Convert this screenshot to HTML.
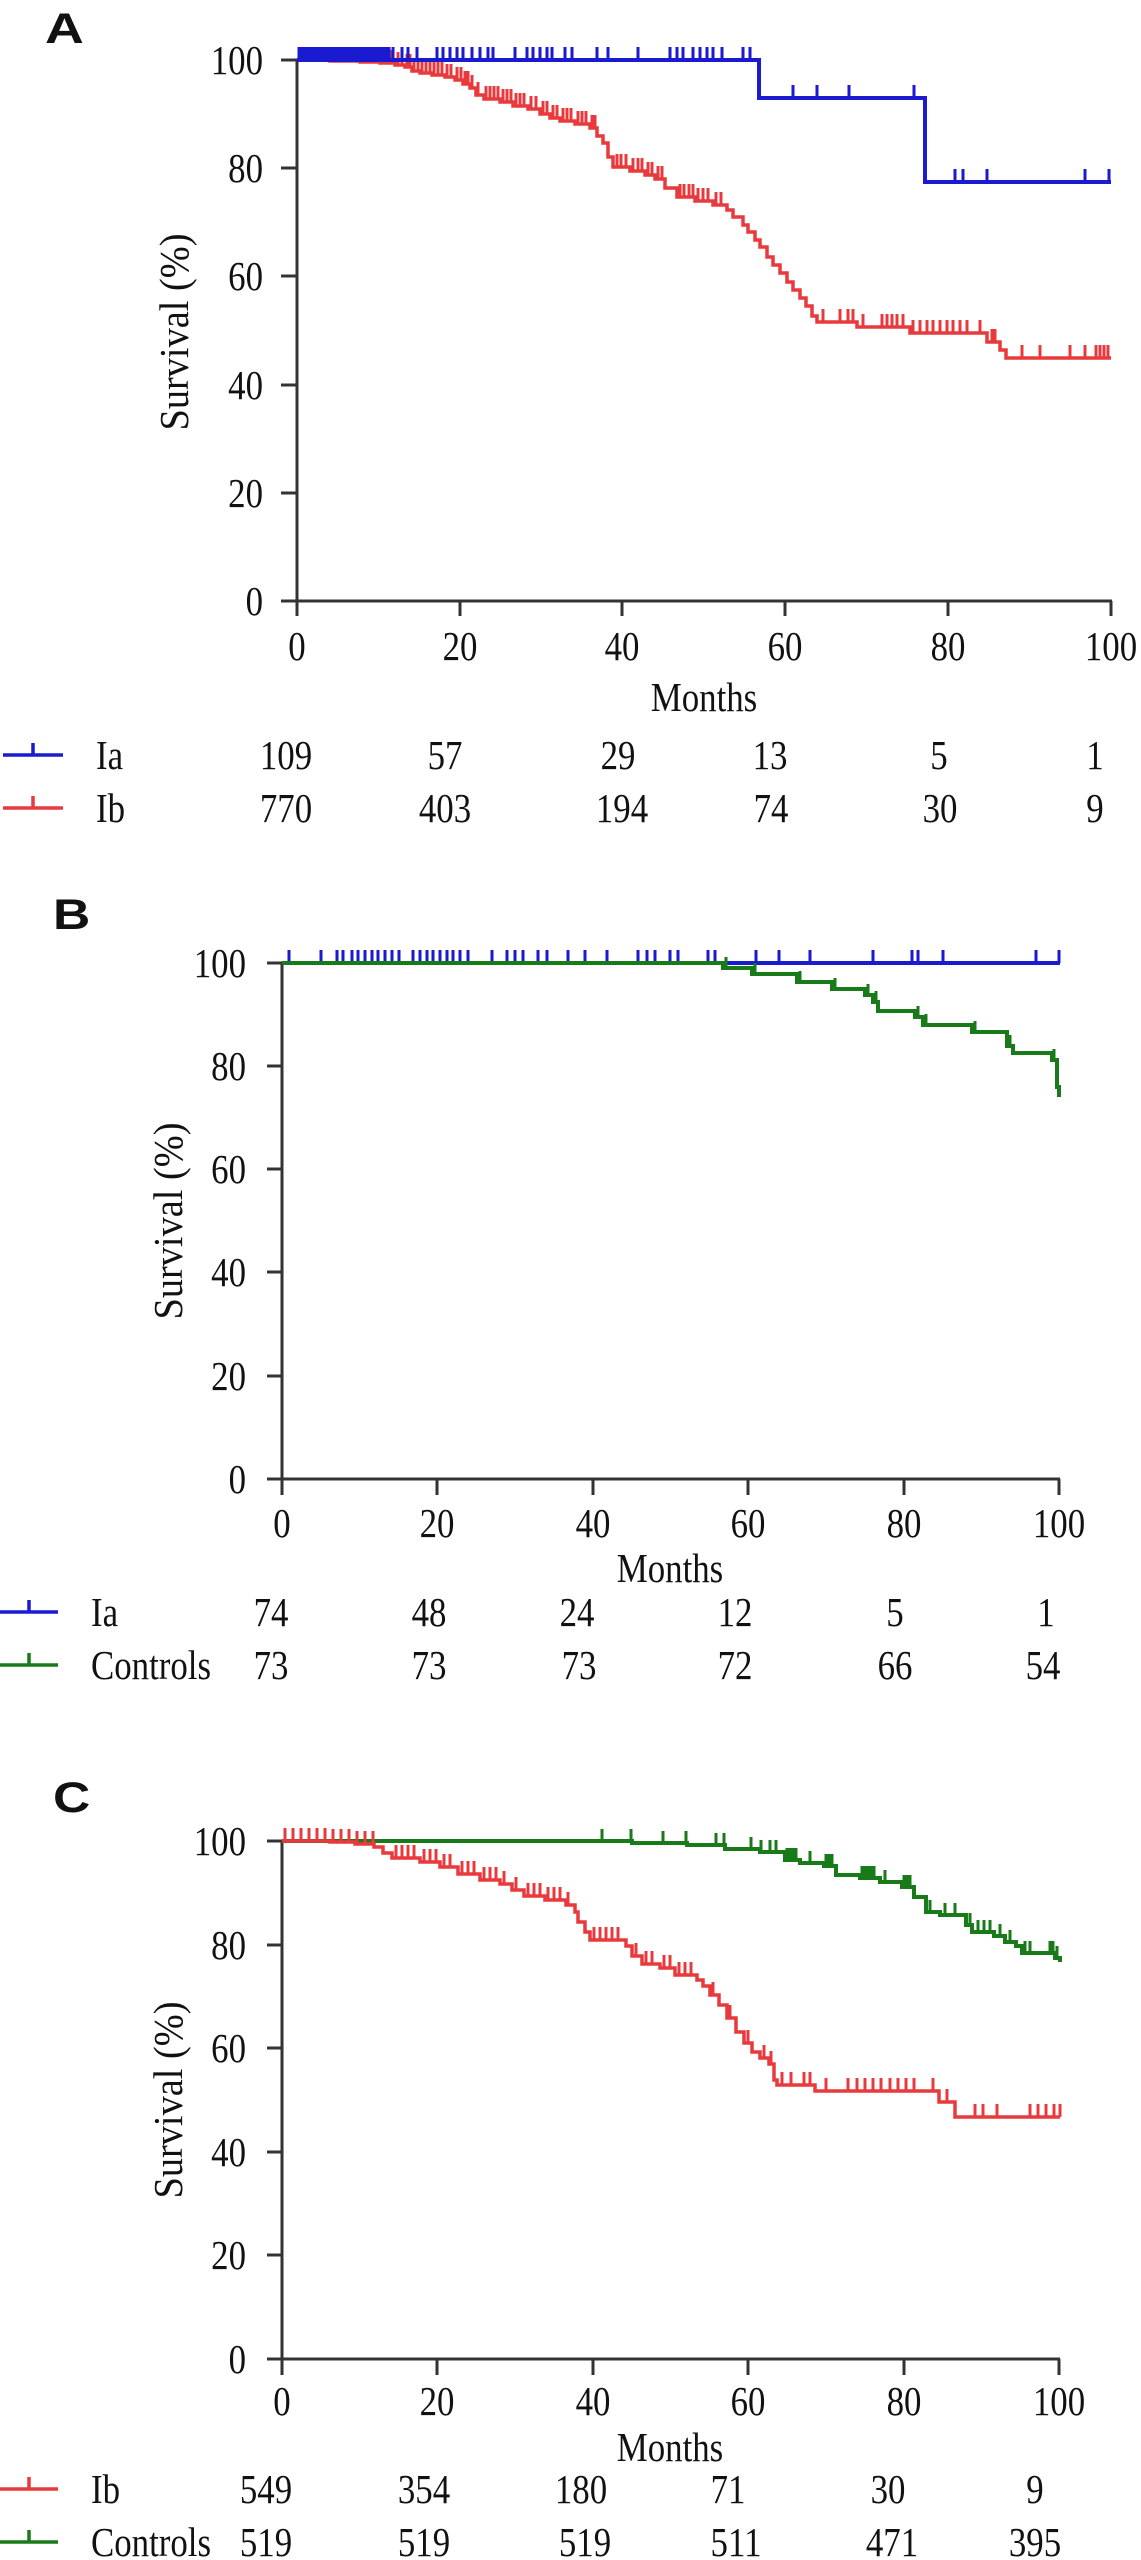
<!DOCTYPE html>
<html><head><meta charset="utf-8"><style>
html,body{margin:0;padding:0;background:#fff;}
svg{display:block;}
.t{font-family:"Liberation Serif",serif;font-size:41px;fill:#111;}
.lab{font-family:"Liberation Sans",sans-serif;font-weight:bold;font-size:43px;fill:#111;}
.ax{stroke:#333;stroke-width:3;fill:none;}
</style></head><body>
<svg width="1141" height="2560" viewBox="0 0 1141 2560" xmlns="http://www.w3.org/2000/svg">
<rect width="1141" height="2560" fill="#fff"/>

<!-- ================= PANEL A ================= -->
<text class="lab" transform="translate(45,43) scale(1.25,1)">A</text>
<path class="ax" d="M297 60V616 M281 601H1112 M281 60H297 M281 168H297 M281 276H297 M281 385H297 M281 493H297 M460 601V616 M622 601V616 M785 601V616 M948 601V616 M1111 601V616"/>
<g class="t" text-anchor="end">
<text transform="translate(263,74) scale(.85,1)">100</text>
<text transform="translate(263,182) scale(.85,1)">80</text>
<text transform="translate(263,290) scale(.85,1)">60</text>
<text transform="translate(263,399) scale(.85,1)">40</text>
<text transform="translate(263,507) scale(.85,1)">20</text>
<text transform="translate(263,615) scale(.85,1)">0</text>
</g>
<g class="t" text-anchor="middle">
<text transform="translate(297,660) scale(.85,1)">0</text>
<text transform="translate(460,660) scale(.85,1)">20</text>
<text transform="translate(622,660) scale(.85,1)">40</text>
<text transform="translate(785,660) scale(.85,1)">60</text>
<text transform="translate(948,660) scale(.85,1)">80</text>
<text transform="translate(1111,660) scale(.85,1)">100</text>
<text transform="translate(704,711) scale(.85,1)">Months</text>
</g>
<text class="t" text-anchor="middle" font-size="40" transform="translate(188,332) rotate(-90)" textLength="197" lengthAdjust="spacingAndGlyphs">Survival (%)</text>

<!-- red Ib A -->
<path fill="none" stroke="#e8393c" stroke-width="3.5" d="M297 60H330V61H360V62H380V63H395V65H405V67H412V71H420V73H432V75H445V77H455V80H463V84H470V88H476V95H484V99H500V102H513V106H528V109H540V114H550V118H560V121H575V124H590V128H597V136H603V143H608V157H613V167H630V171H645V175H655V179H665V188H677V197H695V201H713V205H727V210H733V217H743V225H748V232H755V240H760V247H767V257H773V265H780V273H787V282H793V290H800V298H806V306H812V316H817V322H857V327H910V333H987V342H1000V350H1006V358H1111"/>
<path fill="none" stroke="#e8393c" stroke-width="3" d="M300 60v-13M304 60v-13M308 60v-13M312 60v-13M316 60v-13M320 60v-13M324 60v-13M328 60v-13M332 61v-13M336 61v-13M340 61v-13M344 61v-13M348 61v-13M352 61v-13M356 61v-13M362 62v-13M366 62v-13M370 62v-13M374 62v-13M378 62v-13M382 63v-13M386 63v-13M390 63v-13M398 65v-13M402 65v-13M407 67v-13M410 67v-13M414 71v-13M418 71v-13M422 73v-13M426 73v-13M430 73v-13M434 75v-13M438 75v-13M442 75v-13M447 77v-13M451 77v-13M457 80v-13M461 80v-13M465 84v-13M468 84v-13M472 88v-13M478 95v-13M486 99v-13M490 99v-13M494 99v-13M498 99v-13M503 102v-13M507 102v-13M511 102v-13M516 106v-13M520 106v-13M524 106v-13M531 109v-13M536 109v-13M543 114v-13M547 114v-13M553 118v-13M557 118v-13M563 121v-13M567 121v-13M571 121v-13M578 124v-13M582 124v-13M586 124v-13M592 128v-13M595 128v-13M617 167v-13M621 167v-13M626 167v-13M633 171v-13M638 171v-13M642 171v-13M648 175v-13M652 175v-13M658 179v-13M662 179v-13M680 197v-13M684 197v-13M689 197v-13M693 197v-13M698 201v-13M703 201v-13M708 201v-13M716 205v-13M721 205v-13M823 322v-13M840 322v-13M848 322v-13M853 322v-13M863 327v-13M882 327v-13M887 327v-13M892 327v-13M897 327v-13M903 327v-13M913 333v-13M920 333v-13M927 333v-13M933 333v-13M940 333v-13M947 333v-13M953 333v-13M960 333v-13M967 333v-13M980 333v-13M992 342v-13M995 342v-13M1022 358v-13M1040 358v-13M1070 358v-13M1085 358v-13M1096 358v-13M1100 358v-13M1104 358v-13M1108 358v-13"/>
<!-- blue Ia A -->
<path fill="none" stroke="#1a1ad0" stroke-width="4" d="M297 60H759V98H925V182H1111"/>
<path fill="none" stroke="#1a1ad0" stroke-width="3" d="M299 60v-13M302 60v-13M305 60v-13M308 60v-13M311 60v-13M314 60v-13M317 60v-13M320 60v-13M323 60v-13M326 60v-13M329 60v-13M332 60v-13M335 60v-13M338 60v-13M341 60v-13M344 60v-13M347 60v-13M350 60v-13M353 60v-13M356 60v-13M359 60v-13M362 60v-13M365 60v-13M368 60v-13M371 60v-13M374 60v-13M377 60v-13M380 60v-13M383 60v-13M386 60v-13M389 60v-13M393 60v-13M402 60v-13M408 60v-13M417 60v-13M437 60v-13M443 60v-13M450 60v-13M457 60v-13M463 60v-13M472 60v-13M480 60v-13M488 60v-13M493 60v-13M515 60v-13M527 60v-13M533 60v-13M540 60v-13M547 60v-13M552 60v-13M565 60v-13M572 60v-13M597 60v-13M608 60v-13M638 60v-13M670 60v-13M677 60v-13M683 60v-13M693 60v-13M700 60v-13M707 60v-13M713 60v-13M722 60v-13M743 60v-13M750 60v-13M793 98v-13M817 98v-13M849 98v-13M914 98v-13M955 182v-13M963 182v-13M987 182v-13M1085 182v-13M1109 182v-13"/>
<!-- legend A -->
<path fill="none" stroke="#1a1ad0" stroke-width="3.5" d="M3 755H63M33 755V743"/>
<path fill="none" stroke="#e8393c" stroke-width="3.5" d="M3 808H63M33 808V796"/>
<g class="t">
<text transform="translate(96,769) scale(.85,1)">Ia</text>
<text transform="translate(96,822) scale(.85,1)">Ib</text>
</g>
<g class="t" text-anchor="middle">
<text transform="translate(286,769) scale(.85,1)">109</text>
<text transform="translate(445,769) scale(.85,1)">57</text>
<text transform="translate(618,769) scale(.85,1)">29</text>
<text transform="translate(770,769) scale(.85,1)">13</text>
<text transform="translate(939,769) scale(.85,1)">5</text>
<text transform="translate(1095,769) scale(.85,1)">1</text>
<text transform="translate(286,822) scale(.85,1)">770</text>
<text transform="translate(445,822) scale(.85,1)">403</text>
<text transform="translate(622,822) scale(.85,1)">194</text>
<text transform="translate(771,822) scale(.85,1)">74</text>
<text transform="translate(940,822) scale(.85,1)">30</text>
<text transform="translate(1095,822) scale(.85,1)">9</text>
</g>

<!-- ================= PANEL B ================= -->
<text class="lab" transform="translate(53,929) scale(1.2,1)">B</text>
<path class="ax" d="M282 963V1495 M267 1479H1060 M267 963H282 M267 1066H282 M267 1169H282 M267 1272H282 M267 1376H282 M437 1479V1495 M593 1479V1495 M748 1479V1495 M904 1479V1495 M1059 1479V1495"/>
<g class="t" text-anchor="end">
<text transform="translate(246,977) scale(.85,1)">100</text>
<text transform="translate(246,1080) scale(.85,1)">80</text>
<text transform="translate(246,1183) scale(.85,1)">60</text>
<text transform="translate(246,1286) scale(.85,1)">40</text>
<text transform="translate(246,1390) scale(.85,1)">20</text>
<text transform="translate(246,1493) scale(.85,1)">0</text>
</g>
<g class="t" text-anchor="middle">
<text transform="translate(282,1537) scale(.85,1)">0</text>
<text transform="translate(437,1537) scale(.85,1)">20</text>
<text transform="translate(593,1537) scale(.85,1)">40</text>
<text transform="translate(748,1537) scale(.85,1)">60</text>
<text transform="translate(904,1537) scale(.85,1)">80</text>
<text transform="translate(1059,1537) scale(.85,1)">100</text>
<text transform="translate(670,1582) scale(.85,1)">Months</text>
</g>
<text class="t" text-anchor="middle" font-size="40" transform="translate(182,1221) rotate(-90)" textLength="197" lengthAdjust="spacingAndGlyphs">Survival (%)</text>

<!-- blue Ia B -->
<path fill="none" stroke="#1a1ad0" stroke-width="4" d="M282 963H1060"/>
<path fill="none" stroke="#1a1ad0" stroke-width="3" d="M289 963v-13M321 963v-13M337 963v-13M343 963v-13M352 963v-13M358 963v-13M365 963v-13M372 963v-13M378 963v-13M385 963v-13M392 963v-13M399 963v-13M413 963v-13M420 963v-13M427 963v-13M433 963v-13M440 963v-13M447 963v-13M453 963v-13M460 963v-13M468 963v-13M492 963v-13M507 963v-13M515 963v-13M523 963v-13M538 963v-13M547 963v-13M568 963v-13M585 963v-13M607 963v-13M638 963v-13M647 963v-13M655 963v-13M670 963v-13M678 963v-13M708 963v-13M715 963v-13M756 963v-13M779 963v-13M810 963v-13M873 963v-13M912 963v-13M918 963v-13M943 963v-13M1036 963v-13M1059 963v-13"/>
<!-- green Controls B -->
<path fill="none" stroke="#197a19" stroke-width="4" d="M282 963H723V968H752V974H797V982H832V989H865V995H873V1002H878V1011H915V1017H923V1025H972V1032H1007V1046H1013V1053H1052V1060H1057V1087H1059V1097"/>
<path fill="none" stroke="#197a19" stroke-width="3" d="M726 968v-11M755 974v-11M800 982v-11M835 989v-11M868 995v-11M876 1002v-11M918 1017v-11M926 1025v-11M975 1032v-11M1010 1046v-11M1054 1060v-11"/>
<!-- legend B -->
<path fill="none" stroke="#1a1ad0" stroke-width="3.5" d="M0 1612H58M29 1612V1600"/>
<path fill="none" stroke="#197a19" stroke-width="3.5" d="M0 1665H58M29 1665V1653"/>
<g class="t">
<text transform="translate(91,1626) scale(.85,1)">Ia</text>
<text transform="translate(91,1679) scale(.85,1)">Controls</text>
</g>
<g class="t" text-anchor="middle">
<text transform="translate(271,1626) scale(.85,1)">74</text>
<text transform="translate(429,1626) scale(.85,1)">48</text>
<text transform="translate(577,1626) scale(.85,1)">24</text>
<text transform="translate(735,1626) scale(.85,1)">12</text>
<text transform="translate(895,1626) scale(.85,1)">5</text>
<text transform="translate(1046,1626) scale(.85,1)">1</text>
<text transform="translate(271,1679) scale(.85,1)">73</text>
<text transform="translate(429,1679) scale(.85,1)">73</text>
<text transform="translate(579,1679) scale(.85,1)">73</text>
<text transform="translate(735,1679) scale(.85,1)">72</text>
<text transform="translate(895,1679) scale(.85,1)">66</text>
<text transform="translate(1043,1679) scale(.85,1)">54</text>
</g>

<!-- ================= PANEL C ================= -->
<text class="lab" transform="translate(53,1812) scale(1.2,1)">C</text>
<path class="ax" d="M282 1841V2375 M267 2359H1060 M267 1841H282 M267 1945H282 M267 2048H282 M267 2152H282 M267 2255H282 M437 2359V2375 M593 2359V2375 M748 2359V2375 M904 2359V2375 M1059 2359V2375"/>
<g class="t" text-anchor="end">
<text transform="translate(246,1855) scale(.85,1)">100</text>
<text transform="translate(246,1959) scale(.85,1)">80</text>
<text transform="translate(246,2062) scale(.85,1)">60</text>
<text transform="translate(246,2166) scale(.85,1)">40</text>
<text transform="translate(246,2269) scale(.85,1)">20</text>
<text transform="translate(246,2373) scale(.85,1)">0</text>
</g>
<g class="t" text-anchor="middle">
<text transform="translate(282,2415) scale(.85,1)">0</text>
<text transform="translate(437,2415) scale(.85,1)">20</text>
<text transform="translate(593,2415) scale(.85,1)">40</text>
<text transform="translate(748,2415) scale(.85,1)">60</text>
<text transform="translate(904,2415) scale(.85,1)">80</text>
<text transform="translate(1059,2415) scale(.85,1)">100</text>
<text transform="translate(670,2461) scale(.85,1)">Months</text>
</g>
<text class="t" text-anchor="middle" font-size="40" transform="translate(182,2100) rotate(-90)" textLength="197" lengthAdjust="spacingAndGlyphs">Survival (%)</text>

<!-- green Controls C -->
<path fill="none" stroke="#197a19" stroke-width="4" d="M282 1841H632V1843H687V1845H725V1849H760V1852H785V1860H800V1863H824V1866H836V1875H860V1878H880V1882H902V1887H914V1897H926V1912H940V1915H966V1925H972V1932H994V1936H1005V1942H1016V1946H1022V1953H1055V1958H1060V1962"/>
<path fill="none" stroke="#197a19" stroke-width="3" d="M602 1841v-12M631 1841v-12M663 1843v-12M686 1843v-12M716 1845v-12M724 1845v-12M751 1849v-12M761 1852v-12M770 1852v-12M776 1852v-12M787 1860v-12M790 1860v-12M793 1860v-12M796 1860v-12M810 1863v-12M826 1866v-12M829 1866v-12M832 1866v-12M862 1878v-12M865 1878v-12M868 1878v-12M871 1878v-12M874 1878v-12M885 1882v-12M904 1887v-12M907 1887v-12M910 1887v-12M930 1912v-12M945 1915v-12M955 1915v-12M970 1925v-12M978 1932v-12M984 1932v-12M990 1932v-12M1000 1936v-12M1010 1942v-12M1025 1953v-12M1030 1953v-12M1050 1953v-12M1053 1953v-12M1057 1958v-12"/>
<!-- red Ib C -->
<path fill="none" stroke="#e8393c" stroke-width="3.5" d="M282 1841H330V1842H355V1844H374V1847H383V1853H392V1858H420V1862H440V1867H458V1874H480V1880H500V1884H512V1890H524V1896H545V1900H566V1905H575V1912H578V1922H585V1932H590V1940H626V1946H632V1956H642V1964H660V1968H675V1975H697V1980H703V1986H710V1995H719V2005H727V2018H736V2032H744V2043H752V2052H760V2058H769V2064H774V2080H777V2085H815V2091H939V2102H955V2117H1060"/>
<path fill="none" stroke="#e8393c" stroke-width="3" d="M285 1841v-13M293 1841v-13M301 1841v-13M309 1841v-13M317 1841v-13M325 1841v-13M333 1842v-13M341 1842v-13M349 1842v-13M357 1844v-13M365 1844v-13M373 1844v-13M396 1858v-13M402 1858v-13M408 1858v-13M414 1858v-13M424 1862v-13M430 1862v-13M436 1862v-13M444 1867v-13M450 1867v-13M462 1874v-13M468 1874v-13M474 1874v-13M484 1880v-13M490 1880v-13M496 1880v-13M504 1884v-13M516 1890v-13M528 1896v-13M534 1896v-13M540 1896v-13M548 1900v-13M554 1900v-13M560 1900v-13M568 1905v-13M594 1940v-13M600 1940v-13M606 1940v-13M612 1940v-13M618 1940v-13M636 1956v-13M646 1964v-13M652 1964v-13M664 1968v-13M670 1968v-13M679 1975v-13M685 1975v-13M691 1975v-13M713 1995v-13M730 2018v-13M748 2043v-13M764 2058v-13M771 2064v-13M782 2085v-13M791 2085v-13M804 2085v-13M810 2085v-13M826 2091v-13M848 2091v-13M857 2091v-13M865 2091v-13M873 2091v-13M881 2091v-13M890 2091v-13M898 2091v-13M906 2091v-13M914 2091v-13M933 2091v-13M947 2102v-13M975 2117v-13M983 2117v-13M997 2117v-13M1030 2117v-13M1038 2117v-13M1046 2117v-13M1054 2117v-13M1060 2117v-13"/>
<!-- legend C -->
<path fill="none" stroke="#e8393c" stroke-width="3.5" d="M0 2489H58M29 2489V2477"/>
<path fill="none" stroke="#197a19" stroke-width="3.5" d="M0 2542H58M29 2542V2530"/>
<g class="t">
<text transform="translate(91,2503) scale(.85,1)">Ib</text>
<text transform="translate(91,2556) scale(.85,1)">Controls</text>
</g>
<g class="t" text-anchor="middle">
<text transform="translate(266,2503) scale(.85,1)">549</text>
<text transform="translate(424,2503) scale(.85,1)">354</text>
<text transform="translate(581,2503) scale(.85,1)">180</text>
<text transform="translate(728,2503) scale(.85,1)">71</text>
<text transform="translate(888,2503) scale(.85,1)">30</text>
<text transform="translate(1035,2503) scale(.85,1)">9</text>
<text transform="translate(266,2556) scale(.85,1)">519</text>
<text transform="translate(424,2556) scale(.85,1)">519</text>
<text transform="translate(585,2556) scale(.85,1)">519</text>
<text transform="translate(736,2556) scale(.85,1)">511</text>
<text transform="translate(892,2556) scale(.85,1)">471</text>
<text transform="translate(1035,2556) scale(.85,1)">395</text>
</g>
</svg>
</body></html>
